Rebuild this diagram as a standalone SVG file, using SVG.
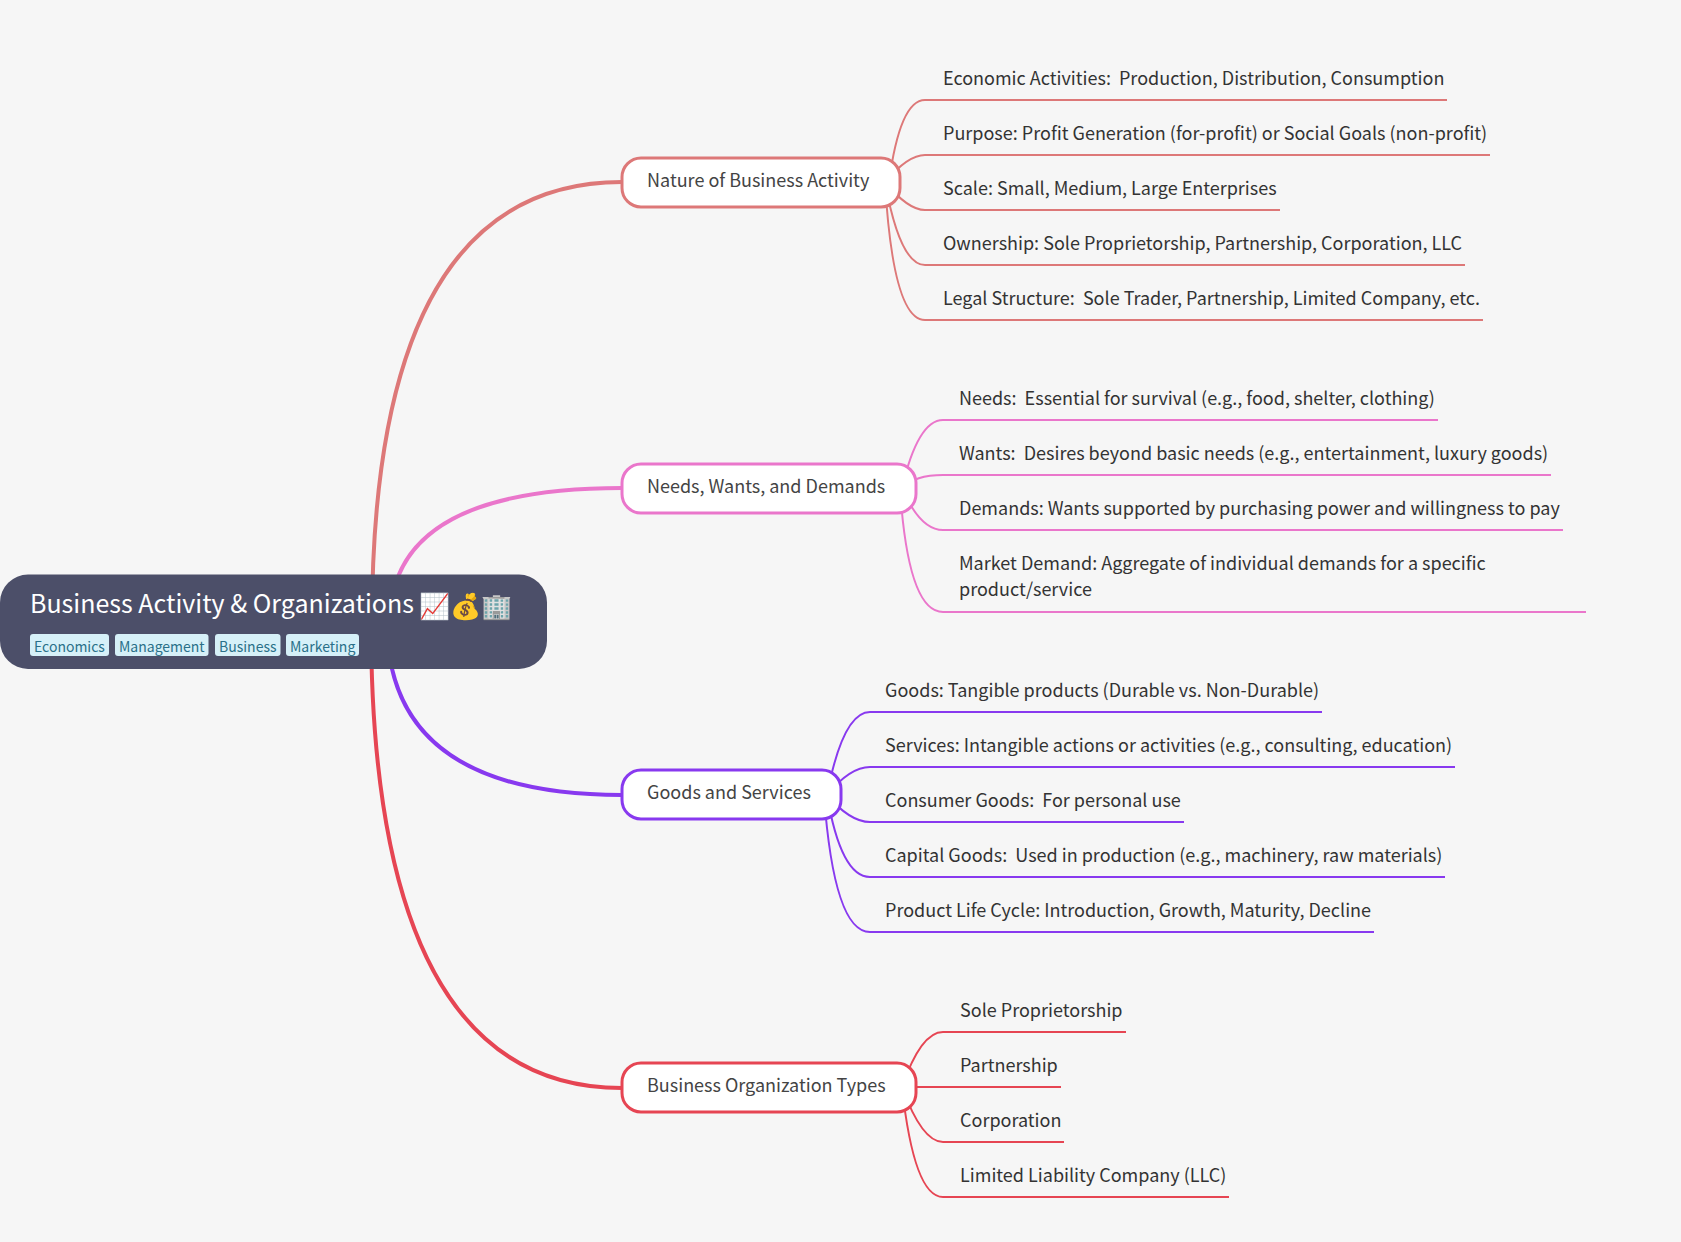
<svg xmlns="http://www.w3.org/2000/svg" width="1681" height="1242" viewBox="0 0 1681 1242">
<style>
text{font-family:"Noto Sans CJK SC","Noto Sans",sans-serif;white-space:pre}
.c{fill:none;stroke-linecap:butt}
.m{stroke-width:4}
.s{stroke-width:2}
.n{fill:#fff;stroke-width:3}
.nt{font-size:18px;fill:#444}
.lt{font-size:18px;fill:#333}
.root{fill:#4c4f69}
.rt{font-size:25px;fill:#fff}
.tag{fill:#d6f0f8}
.tt{font-size:14px;fill:#2a7089}
.f{stroke:#dd7878}.p{stroke:#ea76cb}.v{stroke:#8839ef}.r{stroke:#e64553}
</style>
<rect width="1681" height="1242" fill="#f6f6f6"/>
<g id="connectors">
<path class="c m f" d="M372 622Q372 182 622 182"/>
<path class="c m p" d="M390 622Q390 488 622 488"/>
<path class="c m v" d="M387 622Q387 795 622 795"/>
<path class="c m r" d="M371 622Q371 1088 622 1088"/>
<path class="c s f" d="M889 182Q900 100 925 100L1447 100"/>
<path class="c s f" d="M885 182Q908 155 925 155L1490 155"/>
<path class="c s f" d="M885 182Q908 210 925 210L1280 210"/>
<path class="c s f" d="M885 182Q900 265 925 265L1465 265"/>
<path class="c s f" d="M885 182Q893 320 925 320L1483 320"/>
<path class="c s p" d="M902 488Q918 420 943 420L1438 420"/>
<path class="c s p" d="M902 488Q915 475 943 475L1551 475"/>
<path class="c s p" d="M902 488Q920 530 943 530L1563 530"/>
<path class="c s p" d="M900 488Q908 612 943 612L1586 612"/>
<path class="c s v" d="M827 795Q843 712 870 712L1322 712"/>
<path class="c s v" d="M827 795Q850 767 870 767L1455 767"/>
<path class="c s v" d="M827 795Q850 822 870 822L1184 822"/>
<path class="c s v" d="M827 795Q841 877 870 877L1445 877"/>
<path class="c s v" d="M824 795Q834 932 870 932L1374 932"/>
<path class="c s r" d="M902 1087Q921 1032 943 1032L1126 1032"/>
<path class="c s r" d="M902 1087L1061 1087"/>
<path class="c s r" d="M902 1087Q922 1142 943 1142L1064 1142"/>
<path class="c s r" d="M902 1087Q914 1197 943 1197L1229 1197"/>
</g>
<g id="root">
<rect class="root" x="0" y="574.5" width="547" height="94.5" rx="28"/>
<text class="rt" x="30" y="613">Business Activity &amp; Organizations <tspan font-family="'Noto Color Emoji',sans-serif" dy="2">📈💰🏢</tspan></text>
<rect class="tag" x="30" y="634" width="79" height="22" rx="3"/><text class="tt" x="34" y="652">Economics</text>
<rect class="tag" x="115" y="634" width="93.5" height="22" rx="3"/><text class="tt" x="119" y="652">Management</text>
<rect class="tag" x="215" y="634" width="65.5" height="22" rx="3"/><text class="tt" x="219" y="652">Business</text>
<rect class="tag" x="286" y="634" width="73" height="22" rx="3"/><text class="tt" x="290" y="652">Marketing</text>
</g>
<g id="node-nature"><rect class="n f" x="622" y="158" width="278" height="49" rx="19"/><text class="nt" x="647" y="187">Nature of Business Activity</text></g>
<g id="node-needs"><rect class="n p" x="622" y="464" width="294" height="49" rx="19"/><text class="nt" x="647" y="493">Needs, Wants, and Demands</text></g>
<g id="node-goods"><rect class="n v" x="622" y="770" width="219" height="49" rx="19"/><text class="nt" x="647" y="799">Goods and Services</text></g>
<g id="node-types"><rect class="n r" x="622" y="1063" width="294" height="49" rx="19"/><text class="nt" x="647" y="1092">Business Organization Types</text></g>
<g id="leaf-nature">
<text class="lt" x="943" y="85">Economic Activities:  Production, Distribution, Consumption</text>
<text class="lt" x="943" y="140">Purpose: Profit Generation (for-profit) or Social Goals (non-profit)</text>
<text class="lt" x="943" y="195">Scale: Small, Medium, Large Enterprises</text>
<text class="lt" x="943" y="250">Ownership: Sole Proprietorship, Partnership, Corporation, LLC</text>
<text class="lt" x="943" y="305">Legal Structure:  Sole Trader, Partnership, Limited Company, etc.</text>
</g>
<g id="leaf-needs">
<text class="lt" x="959" y="405">Needs:  Essential for survival (e.g., food, shelter, clothing)</text>
<text class="lt" x="959" y="460">Wants:  Desires beyond basic needs (e.g., entertainment, luxury goods)</text>
<text class="lt" x="959" y="515">Demands: Wants supported by purchasing power and willingness to pay</text>
<text class="lt" x="959" y="570">Market Demand: Aggregate of individual demands for a specific</text>
<text class="lt" x="959" y="596">product/service</text>
</g>
<g id="leaf-goods">
<text class="lt" x="885" y="697">Goods: Tangible products (Durable vs. Non-Durable)</text>
<text class="lt" x="885" y="752">Services: Intangible actions or activities (e.g., consulting, education)</text>
<text class="lt" x="885" y="807">Consumer Goods:  For personal use</text>
<text class="lt" x="885" y="862">Capital Goods:  Used in production (e.g., machinery, raw materials)</text>
<text class="lt" x="885" y="917">Product Life Cycle: Introduction, Growth, Maturity, Decline</text>
</g>
<g id="leaf-types">
<text class="lt" x="960" y="1017">Sole Proprietorship</text>
<text class="lt" x="960" y="1072">Partnership</text>
<text class="lt" x="960" y="1127">Corporation</text>
<text class="lt" x="960" y="1182">Limited Liability Company (LLC)</text>
</g>
</svg>
